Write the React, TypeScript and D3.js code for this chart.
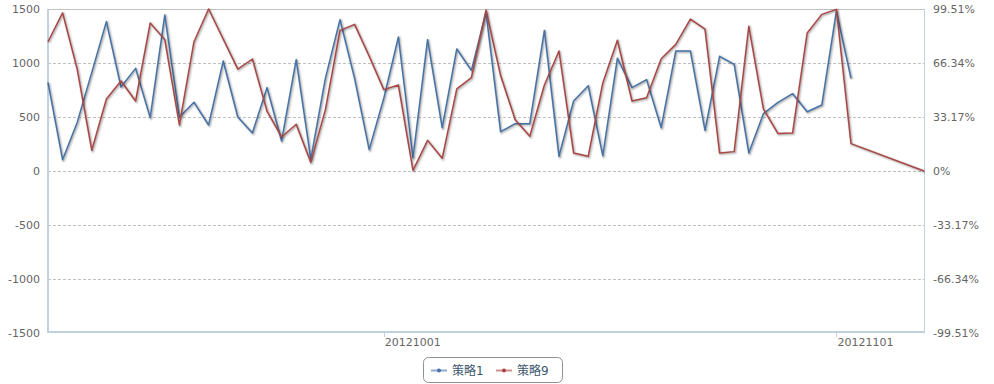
import React from "react";
import * as d3 from "d3";

// ---- data ----
const startDate = Date.UTC(2012, 8, 8);
const endDate = Date.UTC(2012, 10, 8);
const dates: Date[] = d3.utcDay.range(new Date(startDate), new Date(endDate));

const seriesNames = ["策略1", "策略9"];

// 策略1 (left axis)
const strategy1: number[] = [
  821, 105, 450, 913, 1383, 778, 950, 494, 1444, 500,
  636, 426, 1018, 500, 352, 772, 278, 1031, 111, 858,
  1401, 858, 198, 673, 1241, 123, 1216, 401, 1130, 932,
  1469, 364, 438, 438, 1302, 136, 648, 790, 142, 1043,
  772, 846, 401, 1111, 1111, 377, 1062, 988, 167, 531,
  636, 716, 549, 611, 1480, 858,
];

// 策略9 (right axis, percent)
const strategy9: (number | null)[] = [
  79.4, 97.1, 62.6, 12.7, 44.2, 55.3, 43.0, 90.9, 80.7, 28.3,
  79.4, 99.51, 81.1, 62.6, 68.8, 36.8, 20.9, 28.7, 5.3, 37.7,
  86.4, 90.1, 70.5, 50.0, 52.8, 0.4, 18.8, 7.8, 50.4, 57.3,
  98.8, 58.6, 31.5, 21.3, 52.8, 73.7, 11.1, 9.0, 54.1, 80.3,
  43.0, 45.0, 69.0, 77.8, 93.3, 87.2, 11.1, 11.9, 88.9, 38.1,
  23.0, 23.4, 84.8, 96.2, 99.3, 16.8, null, null, null, null,
  0,
];

const leftTicks = [-1500, -1000, -500, 0, 500, 1000, 1500];
const rightTicks = [-99.51, -66.34, -33.17, 0, 33.17, 66.34, 99.51];
const xTickDates = [new Date(Date.UTC(2012, 9, 1)), new Date(Date.UTC(2012, 10, 1))];

const colors = ["#4572A7", "#AA4643"];

export default function App() {
  const W = 994, H = 384;
  const left = 48, right = 924, top = 9, bottom = 333;

  const x = d3.scaleUtc().domain([dates[0], dates[dates.length - 1]]).range([left, right]);
  const yL = d3.scaleLinear().domain([-1500, 1500]).range([bottom, top]);
  const yR = d3.scaleLinear().domain([-99.51, 99.51]).range([bottom, top]);

  const pts1 = strategy1.map((v, i) => [x(dates[i]), yL(v)] as [number, number]);
  const pts9 = strategy9
    .map((v, i) => (v == null ? null : ([x(dates[i]), yR(v)] as [number, number])))
    .filter((p): p is [number, number] => p !== null);

  const line = d3.line<[number, number]>();
  const fmt = d3.utcFormat("%Y%m%d");
  const font = "DejaVu Sans, sans-serif";

  const renderSeries = (pts: [number, number][], color: string, key: string) => {
    const d = line(pts) || "";
    return (
      <g key={key}>
        <path d={d} transform="translate(1,1)" fill="none" stroke="black" strokeOpacity={0.05} strokeWidth={5} strokeLinejoin="round" />
        <path d={d} transform="translate(1,1)" fill="none" stroke="black" strokeOpacity={0.1} strokeWidth={3} strokeLinejoin="round" />
        <path d={d} transform="translate(1,1)" fill="none" stroke="black" strokeOpacity={0.15} strokeWidth={1} strokeLinejoin="round" />
        <path d={d} fill="none" stroke={color} strokeWidth={1.5} strokeLinejoin="round" />
      </g>
    );
  };

  return (
    <svg width={W} height={H} style={{ position: "absolute", left: 0, top: 0, background: "#fff" }}>
      {/* grid */}
      {leftTicks.map((t) =>
        t === 1500 || t === -1500 ? null : (
          <line key={t} x1={left} x2={right} y1={Math.round(yL(t)) + 0.5} y2={Math.round(yL(t)) + 0.5}
            stroke="#C0C0C0" strokeWidth={1} strokeDasharray="3,2" />
        )
      )}
      <line x1={left} x2={right} y1={top + 0.5} y2={top + 0.5} stroke="#C0C0C0" strokeWidth={1} />
      {/* axes */}
      <line x1={left} x2={left} y1={top} y2={bottom} stroke="#C0D0E0" strokeWidth={2} />
      <line x1={right + 0.5} x2={right + 0.5} y1={top} y2={bottom} stroke="#C0D0E0" strokeWidth={1} />
      <line x1={left} x2={right + 1} y1={bottom - 1} y2={bottom - 1} stroke="#C0D0E0" strokeWidth={2} />
      {xTickDates.map((d) => (
        <g key={fmt(d)}>
          <line x1={Math.round(x(d)) + 0.5} x2={Math.round(x(d)) + 0.5} y1={bottom} y2={bottom + 4} stroke="#C0D0E0" />
          <text x={x(d) + 1} y={bottom + 13} fontFamily={font} fontSize={11} fill="#666">{fmt(d)}</text>
        </g>
      ))}
      {leftTicks.map((t) => (
        <text key={t} x={40} y={yL(t) + 4} textAnchor="end" fontFamily={font} fontSize={11} fill="#666">{t}</text>
      ))}
      {rightTicks.map((t) => (
        <text key={t} x={933} y={yR(t) + 4} fontFamily={font} fontSize={11} fill="#666">
          {t === 0 ? "0%" : t.toFixed(2) + "%"}
        </text>
      ))}
      {/* series */}
      {renderSeries(pts1, colors[0], "s1")}
      {renderSeries(pts9, colors[1], "s9")}
      {/* legend */}
      <g>
        <rect x={423.5} y={357.5} width={139} height={25} rx={5} fill="#fff" stroke="#909090" />
        {seriesNames.map((n, i) => {
          const bx = 431 + i * 65;
          return (
            <g key={n}>
              <line x1={bx} x2={bx + 16} y1={370.5} y2={370.5} stroke={colors[i]} strokeWidth={2} strokeOpacity={0.6} />
              <circle cx={bx + 8} cy={370.5} r={2} fill={colors[i]} />
              <text x={bx + 21} y={375} fontFamily="DejaVu Sans, Noto Sans CJK SC, sans-serif" fontSize={12} fill="#3E576F">{n}</text>
            </g>
          );
        })}
      </g>
    </svg>
  );
}
